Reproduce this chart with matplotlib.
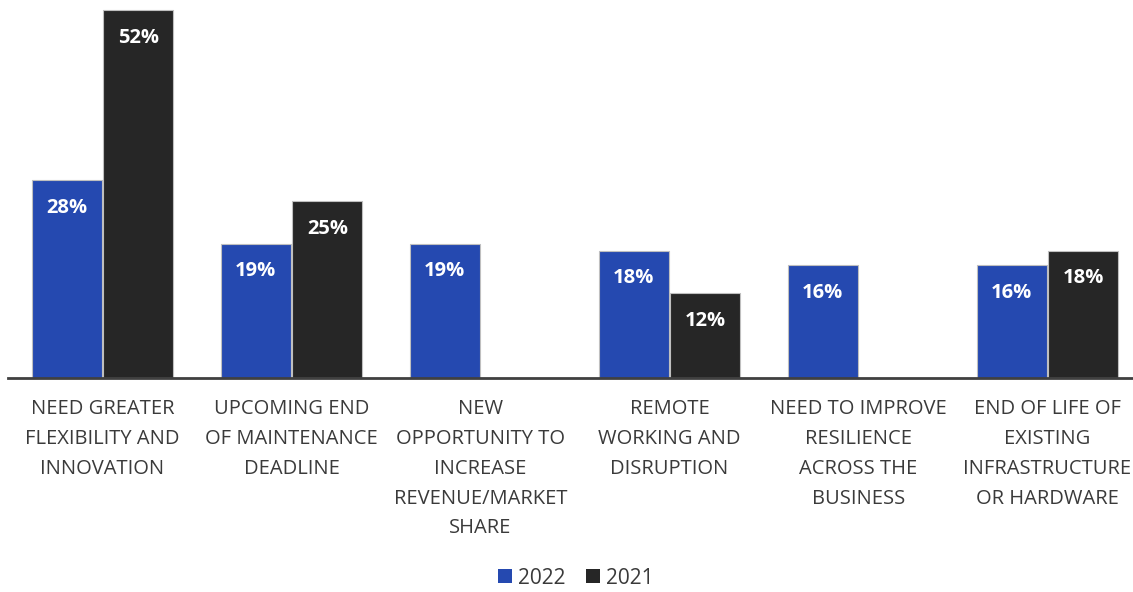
import numpy as np
import matplotlib.pyplot as plt
from matplotlib.patches import Patch

categories = [
    "NEED GREATER\nFLEXIBILITY AND\nINNOVATION",
    "UPCOMING END\nOF MAINTENANCE\nDEADLINE",
    "NEW\nOPPORTUNITY TO\nINCREASE\nREVENUE/MARKET\nSHARE",
    "REMOTE\nWORKING AND\nDISRUPTION",
    "NEED TO IMPROVE\nRESILIENCE\nACROSS THE\nBUSINESS",
    "END OF LIFE OF\nEXISTING\nINFRASTRUCTURE\nOR HARDWARE",
]
vals_2022 = [28, 19, 19, 18, 16, 16]
vals_2021 = [52, 25, np.nan, 12, np.nan, 18]

blue = "#2549B0"
dark = "#262626"
txt = "#3A3A3A"

plt.rcParams['font.family'] = ['Open Sans', 'DejaVu Sans']

fig = plt.figure(figsize=(11.33, 5.92), dpi=100)
W, H = 1133, 592
# axes: left edge at x=8, baseline at y=378
left = 8 / W
width = (189 * 6) / W
bottom = (H - 378) / H
height = 378 / H
ax = fig.add_axes([left, bottom, width, height])

x = np.arange(len(categories))
bw = 0.37
b1 = ax.bar(x - bw / 2 - 0.005, vals_2022, bw, color=blue, edgecolor="#BFBFBF", linewidth=0.8, label="2022")
b2 = ax.bar(x + bw / 2 + 0.005, vals_2021, bw, color=dark, edgecolor="#BFBFBF", linewidth=0.8, label="2021")

for bars, vals in [(b1, vals_2022), (b2, vals_2021)]:
    for rect, v in zip(bars, vals):
        if np.isnan(v):
            continue
        ax.annotate(f"{v:.0f}%", (rect.get_x() + rect.get_width() / 2, v),
                    xytext=(0, -20), textcoords="offset points",
                    ha="center", va="center", color="white",
                    fontsize=14.5, fontweight="bold")

ax.set_xlim(-0.5, 5.5)
ax.set_ylim(0, 52 * 378 / 368)
ax.set_yticks([])
ax.set_xticks(x)
ax.set_xticklabels(categories, fontsize=14.5, color=txt, linespacing=1.66)
ax.tick_params(axis="x", length=0, pad=15)
for s in ["top", "right", "left"]:
    ax.spines[s].set_visible(False)
ax.spines["bottom"].set_color("#404040")
ax.spines["bottom"].set_linewidth(2)

handles = [Patch(facecolor=blue, label="2022"), Patch(facecolor=dark, label="2021")]
fig.legend(handles=handles, loc="center", bbox_to_anchor=(576 / W, 1 - 578 / H),
           ncol=2, frameon=False, fontsize=15, handlelength=0.65, handleheight=0.65,
           handletextpad=0.3, columnspacing=1.0, labelcolor=txt)

fig.savefig("out.png", dpi=100)
